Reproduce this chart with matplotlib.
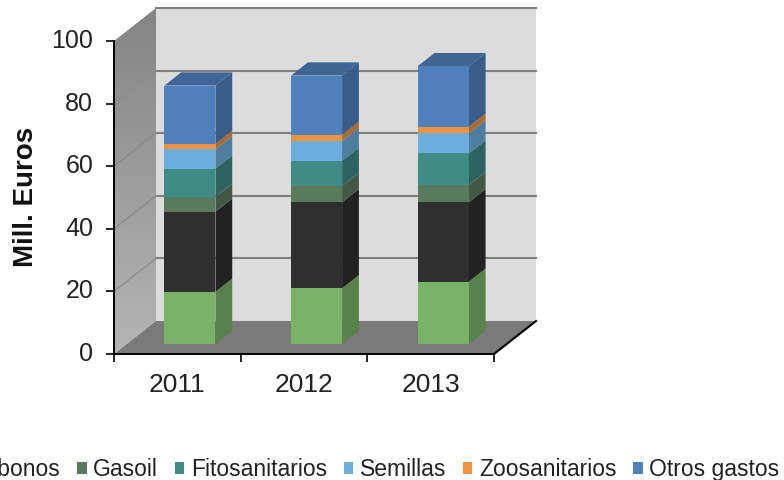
import numpy as np
import matplotlib as mpl
import matplotlib.pyplot as plt
from matplotlib.patches import Polygon, Patch
from matplotlib.transforms import ScaledTranslation

plt.rcParams['font.family'] = ['Liberation Sans', 'DejaVu Sans']

years = ['2011', '2012', '2013']
names = ['Abonos', 'Gasoil', 'Fitosanitarios', 'Semillas', 'Zoosanitarios', 'Otros gastos']
abonos = [16.7, 17.8, 19.9]
# the dark band has no readable legend entry, the first one is cut off in the picture
oscuro = [25.6, 27.5, 25.4]
gasoil = [4.8, 5.2, 5.5]
fito = [9.0, 8.1, 10.1]
semillas = [6.1, 6.3, 6.4]
zoo = [1.7, 1.9, 2.1]
otros = [18.7, 19.0, 19.4]

series = [abonos, oscuro, gasoil, fito, semillas, zoo, otros]
colors = ['#7AB368', '#2F2F2F', '#5A7A5E', '#3F8B85', '#6BAEDD', '#F0933F', '#4F81BD']
legend_colors = ['#2F2F2F', '#5A7A5E', '#3F8B85', '#6BAEDD', '#F0933F', '#4F81BD']

DX = 0.3316   # depth shift in category units
DY = 10.54    # depth shift in value units
BAR_W = 0.4026


def pt(x, y, d):
    return (x + d * DX, y + d * DY)


def shade(c, f):
    r, g, b = mpl.colors.to_rgb(c)
    return (r * f, g * f, b * f)


fig = plt.figure(figsize=(7.84, 4.8), dpi=100)
ax = fig.add_axes([114 / 784, 1 - 354 / 480, 380 / 784, 313 / 480])
n = len(years)

# walls and floor
back = Polygon([pt(0, 0, 1), pt(n, 0, 1), pt(n, 100, 1), pt(0, 100, 1)], fc='#DCDCDC', ec='none', zorder=1, clip_on=False)
ax.add_patch(back)
side = Polygon([pt(0, 0, 0), pt(0, 0, 1), pt(0, 100, 1), pt(0, 100, 0)], fc='none', ec='none', zorder=1, clip_on=False)
ax.add_patch(side)
grad = ax.imshow(np.linspace(0, 1, 64).reshape(-1, 1), extent=(0, DX, 0, 100 + DY), aspect='auto',
                 cmap=mpl.colors.LinearSegmentedColormap.from_list('w', ['#B4B4B4', '#858585']),
                 origin='lower', zorder=1)
grad.set_clip_box(fig.bbox)
grad.set_clip_path(side)
floor = Polygon([pt(0, 0, 0), pt(n, 0, 0), pt(n, 0, 1), pt(0, 0, 1)], fc='#7A7A7A', ec='none', zorder=1.5, clip_on=False)
ax.add_patch(floor)

# gridlines
for v in range(20, 101, 20):
    a, b = pt(0, v, 1), pt(n, v, 1)
    ax.plot([a[0], b[0]], [a[1], b[1]], color='#7F7F7F', lw=1.5, zorder=2, clip_on=False)
    if v < 100:
        a, b = pt(0, v, 0), pt(0, v, 1)
        ax.plot([a[0], b[0]], [a[1], b[1]], color='#8C8C8C', lw=1.0, zorder=2, clip_on=False)
a, b = pt(n, 0, 0), pt(n, 0, 1)
ax.plot([a[0], b[0]], [a[1], b[1]], color='black', lw=1.5, zorder=2, clip_on=False)

# bars
for i in range(n):
    x0 = i + 0.5 - BAR_W / 2
    x1 = x0 + BAR_W
    bottom = 0
    for vals, c in zip(series, colors):
        top = bottom + vals[i]
        ax.add_patch(Polygon([pt(x1, bottom, 0.3), pt(x1, bottom, 0.7), pt(x1, top, 0.7), pt(x1, top, 0.3)],
                             fc=shade(c, 0.72), ec='none', zorder=3, clip_on=False))
        ax.add_patch(Polygon([pt(x0, bottom, 0.3), pt(x1, bottom, 0.3), pt(x1, top, 0.3), pt(x0, top, 0.3)],
                             fc=c, ec='none', zorder=3, clip_on=False))
        bottom = top
    ax.add_patch(Polygon([pt(x0, bottom, 0.3), pt(x1, bottom, 0.3), pt(x1, bottom, 0.7), pt(x0, bottom, 0.7)],
                         fc=shade(colors[-1], 0.78), ec='none', zorder=3, clip_on=False))

ax.set_xlim(0, n)
ax.set_ylim(0, 100)
ax.patch.set_visible(False)
ax.spines['top'].set_visible(False)
ax.spines['right'].set_visible(False)
for s in ['left', 'bottom']:
    ax.spines[s].set_linewidth(1.4)
    ax.spines[s].set_zorder(5)
ax.set_yticks(range(0, 101, 20))
ax.set_xticks(range(n + 1))
ax.set_xticklabels([''] * (n + 1))
ax.tick_params(axis='both', length=6, width=1.2, direction='out')
ax.tick_params(axis='y', labelsize=18, pad=9, labelcolor='#222222')
# labels in the reference sit a little above their ticks
lift = ScaledTranslation(0, 2.5 / 100, fig.dpi_scale_trans)
for lab in ax.get_yticklabels():
    lab.set_transform(lab.get_transform() + lift)
for i, y in enumerate(years):
    ax.annotate(y, (i + 0.5, 0), xytext=(0, -13.5), textcoords='offset points', ha='center', va='top',
                fontsize=19, color='#222222', annotation_clip=False)
fig.text(26 / 784, 1 - 197 / 480, 'Mill. Euros', rotation=90, ha='center', va='center',
         fontsize=20, fontweight='bold', color='#111111')

handles = [Patch(fc=c, ec='none') for c in legend_colors]
fig.legend(handles, names, ncol=6, loc='lower right', bbox_to_anchor=(782 / 784, -4 / 480),
           frameon=False, fontsize=16.5, handlelength=0.42, handleheight=0.42, handletextpad=0.28,
           columnspacing=0.73, labelcolor='#222222', borderaxespad=0, borderpad=0.12)

fig.savefig('out.png', dpi=100)
